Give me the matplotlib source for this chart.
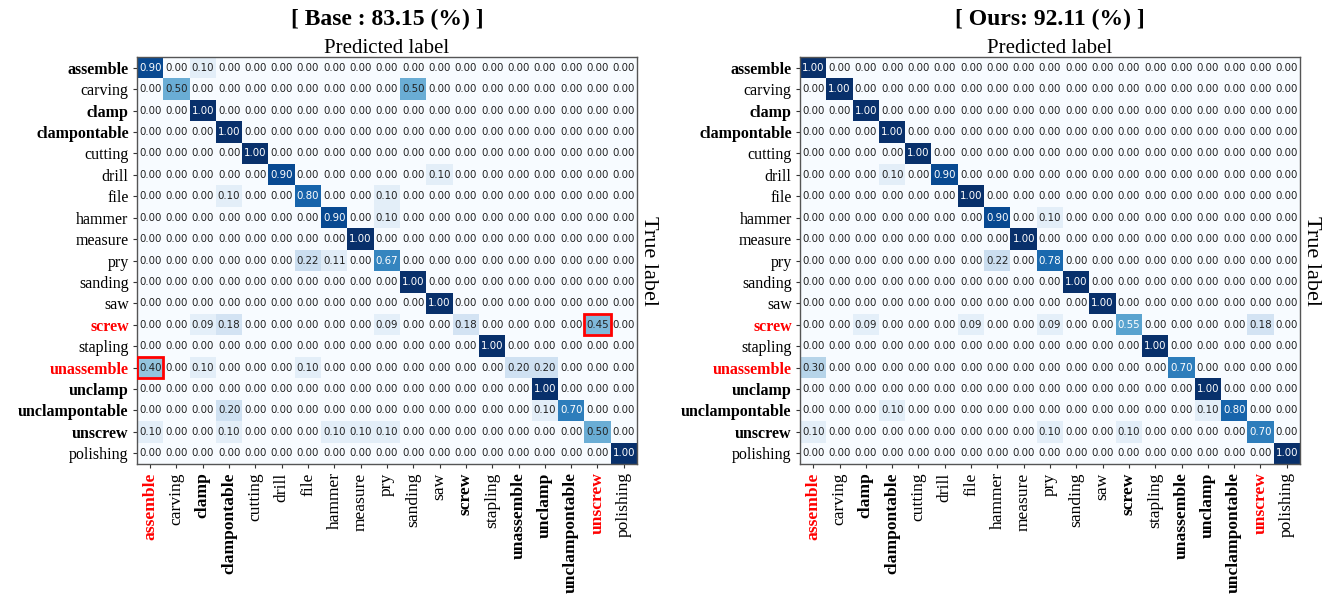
import numpy as np
import matplotlib
matplotlib.use("Agg")
import matplotlib.pyplot as plt
from matplotlib.patches import Rectangle

classes = ["assemble", "carving", "clamp", "clampontable", "cutting", "drill", "file",
           "hammer", "measure", "pry", "sanding", "saw", "screw", "stapling",
           "unassemble", "unclamp", "unclampontable", "unscrew", "polishing"]
bold_labels = ["assemble", "clamp", "clampontable", "screw", "unassemble",
               "unclamp", "unclampontable", "unscrew"]
red_y = ["screw", "unassemble"]
red_x = ["assemble", "unscrew"]

# non-zero cells: (true, predicted, value)
base_cells = [
    ("assemble", "assemble", 0.90), ("assemble", "clamp", 0.10),
    ("carving", "carving", 0.50), ("carving", "sanding", 0.50),
    ("clamp", "clamp", 1.00),
    ("clampontable", "clampontable", 1.00),
    ("cutting", "cutting", 1.00),
    ("drill", "drill", 0.90), ("drill", "saw", 0.10),
    ("file", "clampontable", 0.10), ("file", "file", 0.80), ("file", "pry", 0.10),
    ("hammer", "hammer", 0.90), ("hammer", "pry", 0.10),
    ("measure", "measure", 1.00),
    ("pry", "file", 0.22), ("pry", "hammer", 0.11), ("pry", "pry", 0.67),
    ("sanding", "sanding", 1.00),
    ("saw", "saw", 1.00),
    ("screw", "clamp", 0.09), ("screw", "clampontable", 0.18), ("screw", "pry", 0.09),
    ("screw", "screw", 0.18), ("screw", "unscrew", 0.45),
    ("stapling", "stapling", 1.00),
    ("unassemble", "assemble", 0.40), ("unassemble", "clamp", 0.10),
    ("unassemble", "file", 0.10), ("unassemble", "unassemble", 0.20),
    ("unassemble", "unclamp", 0.20),
    ("unclamp", "unclamp", 1.00),
    ("unclampontable", "clampontable", 0.20), ("unclampontable", "unclamp", 0.10),
    ("unclampontable", "unclampontable", 0.70),
    ("unscrew", "assemble", 0.10), ("unscrew", "clampontable", 0.10),
    ("unscrew", "hammer", 0.10), ("unscrew", "measure", 0.10),
    ("unscrew", "pry", 0.10), ("unscrew", "unscrew", 0.50),
    ("polishing", "polishing", 1.00),
]
ours_cells = [
    ("assemble", "assemble", 1.00),
    ("carving", "carving", 1.00),
    ("clamp", "clamp", 1.00),
    ("clampontable", "clampontable", 1.00),
    ("cutting", "cutting", 1.00),
    ("drill", "clampontable", 0.10), ("drill", "drill", 0.90),
    ("file", "file", 1.00),
    ("hammer", "hammer", 0.90), ("hammer", "pry", 0.10),
    ("measure", "measure", 1.00),
    ("pry", "hammer", 0.22), ("pry", "pry", 0.78),
    ("sanding", "sanding", 1.00),
    ("saw", "saw", 1.00),
    ("screw", "clamp", 0.09), ("screw", "file", 0.09), ("screw", "pry", 0.09),
    ("screw", "screw", 0.55), ("screw", "unscrew", 0.18),
    ("stapling", "stapling", 1.00),
    ("unassemble", "assemble", 0.30), ("unassemble", "unassemble", 0.70),
    ("unclamp", "unclamp", 1.00),
    ("unclampontable", "clampontable", 0.10), ("unclampontable", "unclamp", 0.10),
    ("unclampontable", "unclampontable", 0.80),
    ("unscrew", "assemble", 0.10), ("unscrew", "pry", 0.10),
    ("unscrew", "screw", 0.10), ("unscrew", "unscrew", 0.70),
    ("polishing", "polishing", 1.00),
]
base_highlight = [("unassemble", "assemble"), ("screw", "unscrew")]


def to_matrix(cells):
    m = np.zeros((len(classes), len(classes)))
    for t, p, v in cells:
        m[classes.index(t), classes.index(p)] = v
    return m


def draw_cm(ax, cm, title, highlight):
    n = len(classes)
    ax.imshow(cm, cmap="Blues", vmin=0, vmax=1, aspect="auto", interpolation="nearest")
    for i in range(n):
        for j in range(n):
            v = cm[i, j]
            ax.text(j, i, f"{v:.2f}", ha="center", va="center", fontsize=7.4,
                    family="DejaVu Sans", color="white" if v > 0.5 else "#222222")
    for t, p in highlight:
        ax.add_patch(Rectangle((classes.index(p) - 0.5, classes.index(t) - 0.5), 1, 1,
                               fill=False, edgecolor="red", linewidth=2, zorder=5))
    ax.set_xticks(range(n))
    ax.set_yticks(range(n))
    ax.set_xticklabels(classes, rotation=90)
    ax.set_yticklabels(classes)
    for lab, name in zip(ax.get_xticklabels(), classes):
        lab.set_family("Liberation Serif")
        lab.set_fontsize(12.6)
        if name in bold_labels:
            lab.set_fontweight("bold")
        if name in red_x:
            lab.set_color("red")
    for lab, name in zip(ax.get_yticklabels(), classes):
        lab.set_family("Liberation Serif")
        lab.set_fontsize(11.5)
        if name in bold_labels:
            lab.set_fontweight("bold")
        if name in red_y:
            lab.set_color("red")
    ax.tick_params(axis="both", length=3, width=0.8, color="#333333", pad=3)
    ax.xaxis.set_label_position("top")
    ax.set_xlabel("Predicted label", family="Liberation Serif", fontsize=15, labelpad=3)
    ax.yaxis.set_label_position("right")
    ax.set_ylabel("True label", family="Liberation Serif", fontsize=16, rotation=270,
                  labelpad=15)
    for s in ax.spines.values():
        s.set_color("#555555")
        s.set_linewidth(1.0)
    ax.set_title(title, family="Liberation Serif", fontsize=17, fontweight="bold", pad=23)


fig = plt.figure(figsize=(13.33, 5.97), dpi=100)
ax1 = fig.add_axes([0.1028, 0.2228, 0.375, 0.6817])
ax2 = fig.add_axes([0.6002, 0.2228, 0.375, 0.6817])

draw_cm(ax1, to_matrix(base_cells), "[ Base : 83.15 (%) ]", base_highlight)
draw_cm(ax2, to_matrix(ours_cells), "[ Ours: 92.11 (%) ]", [])

fig.savefig("out.png", dpi=100)
